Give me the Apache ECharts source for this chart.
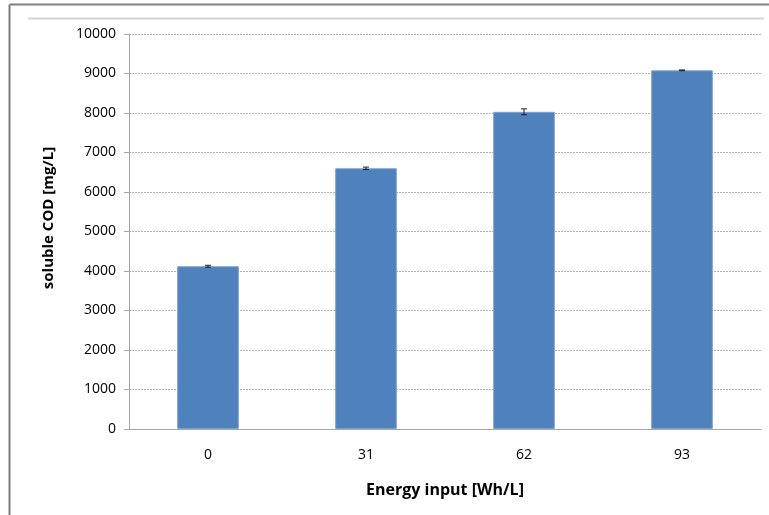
<!DOCTYPE html>
<html><head><meta charset="utf-8">
<script src="https://cdn.jsdelivr.net/npm/echarts@6/dist/echarts.min.js"></script>
<style>html,body{margin:0;padding:0;background:#fff}#c{width:769px;height:515px}</style>
</head><body><div id="c"></div>
<script>
var categories = ['0', '31', '62', '93'];
var values = [4120, 6600, 8030, 9080];
var errors = [25, 30, 75, 10];
var yTicks = [0, 1000, 2000, 3000, 4000, 5000, 6000, 7000, 8000, 9000, 10000];

var chart = echarts.init(document.getElementById('c'));
var font = 'Open Sans';
chart.setOption({
  animation: false,
  graphic: [
    {type: 'line', shape: {x1: 9.5, y1: 4.5, x2: 769, y2: 4.5}, style: {stroke: '#7f7f7f', lineWidth: 2}},
    {type: 'line', shape: {x1: 9.5, y1: 4.5, x2: 9.5, y2: 515}, style: {stroke: '#7f7f7f', lineWidth: 2}},
    {type: 'line', shape: {x1: 28, y1: 18.5, x2: 764, y2: 18.5}, style: {stroke: '#d4d4d4', lineWidth: 2}},
    {type: 'text', x: 49, y: 218, rotation: Math.PI / 2,
     style: {text: 'soluble COD [mg/L]', fontFamily: font, fontWeight: 'bold', fontSize: 15,
             fill: '#000', align: 'center', verticalAlign: 'middle'}}
  ],
  grid: {left: 129, right: 8, top: 34, bottom: 86},
  xAxis: {
    type: 'category', data: categories,
    name: 'Energy input [Wh/L]', nameLocation: 'middle', nameGap: 53,
    nameTextStyle: {fontFamily: font, fontWeight: 'bold', fontSize: 16, color: '#000'},
    axisLine: {lineStyle: {color: '#a6a6a6'}},
    axisTick: {show: false},
    axisLabel: {fontFamily: font, fontSize: 14, color: '#000', margin: 19}
  },
  yAxis: {
    type: 'value', min: 0, max: 10000, interval: 1000,
    axisLine: {show: true, lineStyle: {color: '#a6a6a6'}},
    axisTick: {show: true, length: 5, lineStyle: {color: '#a6a6a6'}},
    axisLabel: {fontFamily: font, fontSize: 14, color: '#000', margin: 13,
      formatter: function (v) { return yTicks.indexOf(v) >= 0 ? String(v) : ''; }},
    splitLine: {lineStyle: {color: '#b4b4b4', type: [2, 1], width: 1}}
  },
  series: [
    {type: 'bar', data: values, barWidth: '39%',
     itemStyle: {color: '#4f81bd', borderColor: '#7da0cc', borderWidth: 1}},
    {type: 'custom',
     data: values.map(function (v, i) { return [i, v - errors[i], v + errors[i]]; }),
     renderItem: function (params, api) {
       var lo = api.coord([api.value(0), api.value(1)]);
       var hi = api.coord([api.value(0), api.value(2)]);
       var x = lo[0], w = 3;
       var st = {stroke: '#1f1f1f', lineWidth: 1};
       return {type: 'group', children: [
         {type: 'line', shape: {x1: x, y1: lo[1], x2: x, y2: hi[1]}, style: st},
         {type: 'line', shape: {x1: x - w, y1: lo[1], x2: x + w, y2: lo[1]}, style: st},
         {type: 'line', shape: {x1: x - w, y1: hi[1], x2: x + w, y2: hi[1]}, style: st}
       ]};
     }, z: 5}
  ]
});
</script></body></html>
